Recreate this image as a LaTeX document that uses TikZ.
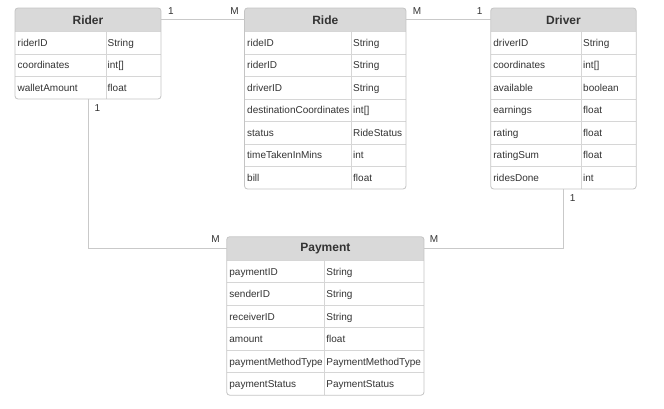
\documentclass[tikz,border=0pt]{standalone}
\usepackage{fontspec}
\setmainfont{Liberation Sans}
\usetikzlibrary{calc}
\definecolor{headfill}{HTML}{D9D9D9}
\definecolor{boxgray}{HTML}{C4C4C4}
\definecolor{rowgray}{HTML}{D6D6D6}
\definecolor{linegray}{HTML}{C9C9C9}
\definecolor{textgray}{HTML}{333333}
\tikzset{
    entity/.style={fill=white, inner sep=0, outer sep=0, anchor=north west},
    head/.style={font=\bfseries\fontsize{12}{14}\selectfont, text=textgray, inner sep=0, outer sep=0, anchor=north west},
    field/.style={font=\fontsize{10}{12}\selectfont, text=textgray, inner sep=0, anchor=west, text height=7.2pt, text depth=0pt},
    card/.style={font=\fontsize{10}{12}\selectfont, text=textgray, inner sep=0},
    rel/.style={draw=linegray, line width=1pt}
}
% #1 name, #2 title, #3 left, #4 top, #5 width, #6 column, #7 rows, #8 fields
\newcommand{\entity}[8]{%
  \pgfmathsetmacro{\entheight}{23.5+#7*22.5}
  \node[entity, minimum width=#5, minimum height=\entheight] (#1) at (#3,#4) {};
  \begin{scope}
    \clip[rounded corners=3pt] (#1.north west) rectangle (#1.south east);
    \fill[headfill] (#1.north west) rectangle ($(#1.north east)+(0,23.5)$);
  \end{scope}
  \node[head, minimum width=#5, minimum height=23.5] (#1-head) at (#3,#4) {#2};
  \foreach \f/\t [count=\i] in {#8}{
    \pgfmathsetmacro{\rowtop}{#4+23.5+(\i-1)*22.5}
    \draw[rowgray, line width=0.8pt] (#3,\rowtop) -- (#3+#5,\rowtop);
    \node[field] (#1-f\i) at (#3+2.5,\rowtop+11.25) {\f};
    \node[field] (#1-t\i) at (#6+1.5,\rowtop+11.25) {\t};
  }
  \draw[rowgray, line width=0.8pt] (#6,#4+23.5) -- (#6,#4+\entheight);
  \draw[boxgray, line width=0.8pt, rounded corners=3pt] (#1.north west) rectangle (#1.south east);
}

\begin{document}
\begin{tikzpicture}[x=1pt, y=-1pt]
\useasboundingbox (0,0) rectangle (664,409);

\entity{rider}{Rider}{15}{8}{146}{106}{3}{riderID/String, coordinates/int[], walletAmount/float}
\entity{ride}{Ride}{244.5}{8}{161.5}{351.5}{7}{rideID/String, riderID/String, driverID/String, destinationCoordinates/int[], status/RideStatus, timeTakenInMins/int, bill/float}
\entity{driver}{Driver}{490.7}{8}{145.5}{581.5}{7}{driverID/String, coordinates/int[], available/boolean, earnings/float, rating/float, ratingSum/float, ridesDone/int}
\entity{payment}{Payment}{226.7}{236.7}{197.3}{324.7}{6}{paymentID/String, senderID/String, receiverID/String, amount/float, paymentMethodType/PaymentMethodType, paymentStatus/PaymentStatus}

% relations
\draw[rel] (rider-head.east) -- node[card, above=5pt, pos=0.12]{1} node[card, above=5pt, pos=0.88]{M} (ride-head.west);
\draw[rel] (ride-head.east) -- node[card, above=5pt, pos=0.13]{M} node[card, above=5pt, pos=0.87]{1} (driver-head.west);
\draw[rel] (rider.south) |- node[card, right=6pt, pos=0.03]{1} node[card, above=5pt, pos=0.96]{M} (payment-head.west);
\draw[rel] (driver.south) |- node[card, right=6pt, pos=0.08]{1} node[card, above=5pt, pos=0.964]{M} (payment-head.east);
\end{tikzpicture}
\end{document}
